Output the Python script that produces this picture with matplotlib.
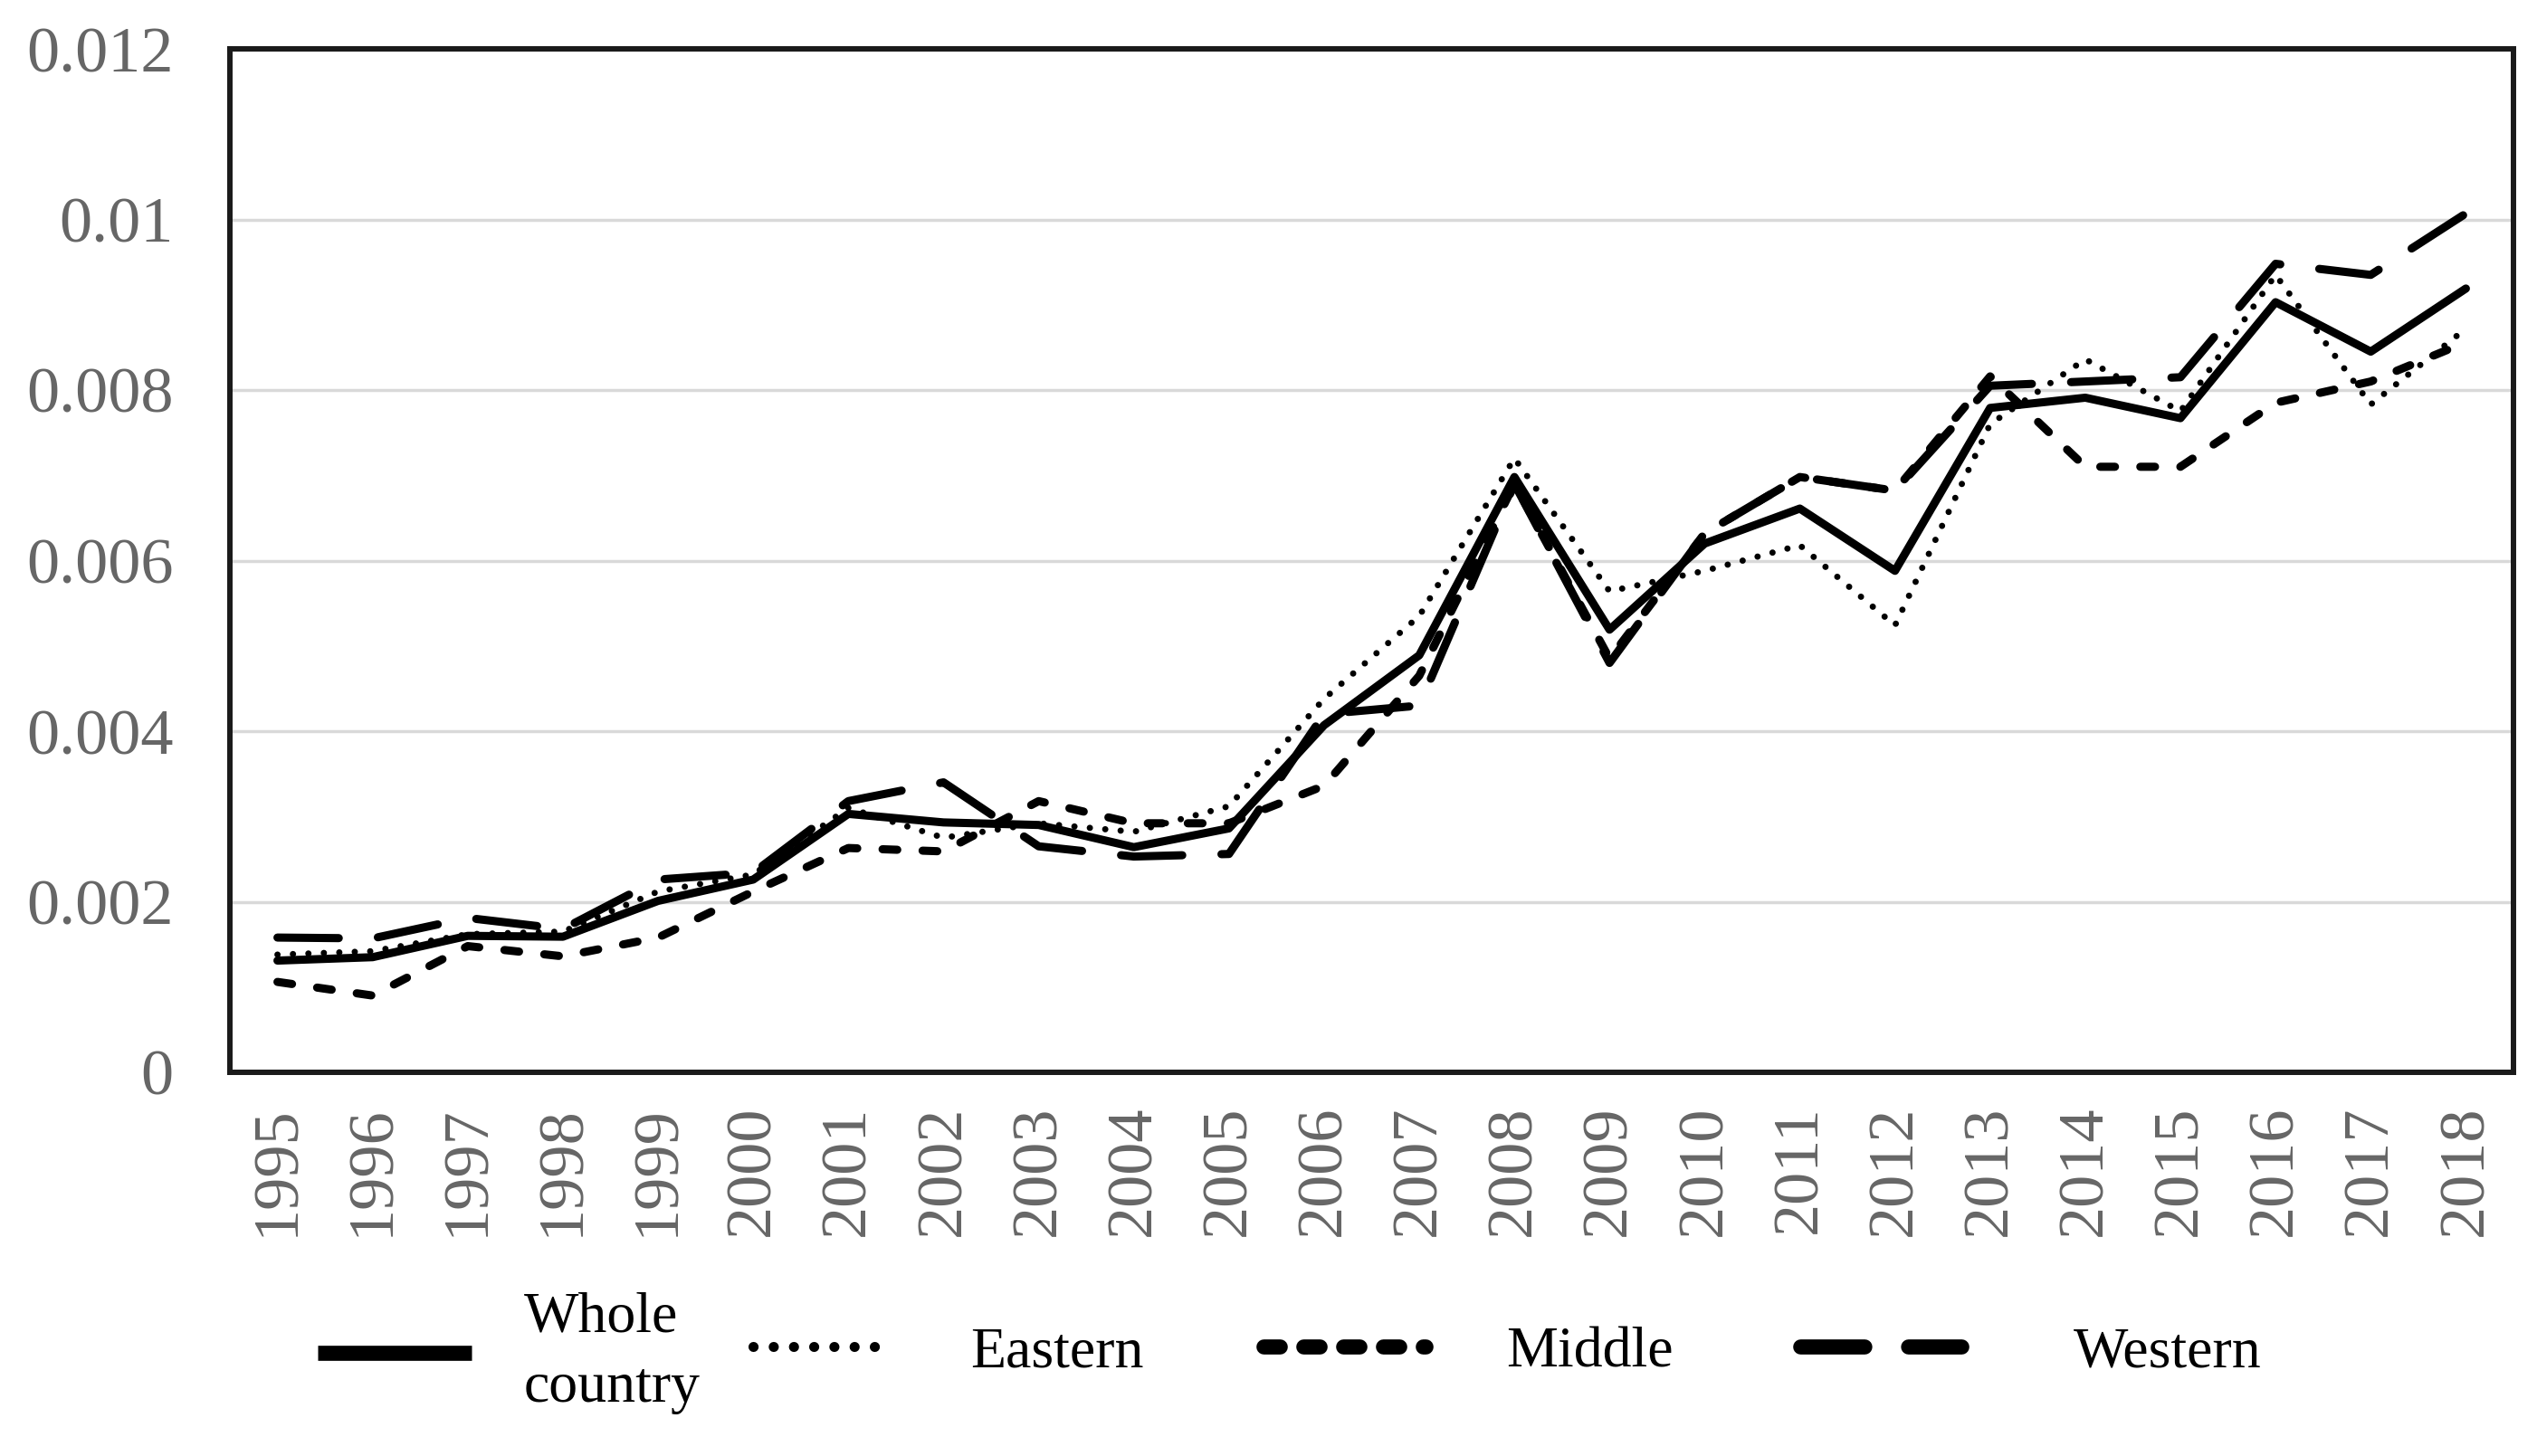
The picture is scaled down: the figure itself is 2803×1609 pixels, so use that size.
import matplotlib
matplotlib.use("Agg")
import matplotlib.pyplot as plt
from matplotlib.lines import Line2D

# --- data ---
years = [str(y) for y in range(1995, 2019)]

whole_country = [0.00131, 0.00135, 0.00160, 0.00159, 0.00201, 0.00226, 0.00303, 0.00293,
                 0.00290, 0.00264, 0.00286, 0.00407, 0.00489, 0.00698, 0.00519, 0.00620,
                 0.00661, 0.00588, 0.00779, 0.00791, 0.00767, 0.00903, 0.00845, 0.00919]
eastern = [0.00138, 0.00142, 0.00162, 0.00165, 0.00212, 0.00232, 0.00310, 0.00275,
           0.00292, 0.00282, 0.00312, 0.00438, 0.00535, 0.00720, 0.00564, 0.00588,
           0.00618, 0.00524, 0.00760, 0.00836, 0.00775, 0.00935, 0.00783, 0.00872]
middle = [0.00106, 0.00090, 0.00148, 0.00136, 0.00158, 0.00212, 0.00263, 0.00259,
          0.00318, 0.00292, 0.00292, 0.00336, 0.00465, 0.00690, 0.00485, 0.00632,
          0.00698, 0.00682, 0.00816, 0.00710, 0.00710, 0.00785, 0.00810, 0.00856]
western = [0.00158, 0.00157, 0.00181, 0.00168, 0.00226, 0.00234, 0.00318, 0.00340,
           0.00265, 0.00253, 0.00256, 0.00420, 0.00430, 0.00690, 0.00480, 0.00632,
           0.00698, 0.00682, 0.00805, 0.00810, 0.00815, 0.00948, 0.00935, 0.01007]

series_labels = ['Whole\ncountry', 'Eastern', 'Middle', 'Western']

y_ticks = [0, 0.002, 0.004, 0.006, 0.008, 0.01, 0.012]
y_tick_labels = ["0", "0.002", "0.004", "0.006", "0.008", "0.01", "0.012"]

plt.rcParams['font.family'] = ['Liberation Serif', 'DejaVu Serif']

W, H = 2803, 1609
fig = plt.figure(figsize=(W / 100, H / 100), dpi=100)
ax = fig.add_axes([254 / W, 1 - 1185 / H, (2777 - 254) / W, (1185 - 54) / H])

x = list(range(len(years)))
lw = 6.5

# Whole country - solid
ax.plot(x, whole_country, color='black', lw=lw, solid_capstyle='round',
        solid_joinstyle='round', zorder=5)
# Eastern - dotted
ax.plot(x, eastern, color='black', lw=5, dashes=(0.01, 2.45),
        dash_capstyle='round', zorder=4)
# Middle - medium dashes
ax.plot(x, middle, color='black', lw=lw, dashes=(1.8, 3.1),
        dash_capstyle='round', zorder=3)
# Western - long dashes
ax.plot(x, western, color='black', lw=lw, dashes=(7.5, 4.8),
        dash_capstyle='round', zorder=2)

ax.set_xlim(-0.5, len(years) - 0.5)
ax.set_ylim(0, 0.012)
ax.set_xticks(x)
ax.set_xticklabels(years, rotation=90)
ax.set_yticks(y_ticks)
ax.set_yticklabels(y_tick_labels)

ax.grid(axis='y', color='#d9d9d9', lw=2.5)
ax.set_axisbelow(True)
for spine in ax.spines.values():
    spine.set_linewidth(4.3)
    spine.set_color('#1a1a1a')

ax.tick_params(axis='x', length=0, pad=26, labelsize=52, labelcolor='#666666')
ax.tick_params(axis='y', length=0, pad=45, labelsize=52, labelcolor='#666666')

# legend: one entry per block so each sits where the reference puts it
legend_handles = [
    Line2D([], [], color='black', lw=12, solid_capstyle='butt'),
    Line2D([], [], color='black', lw=8, dashes=(0.01, 2.0), dash_capstyle='round'),
    Line2D([], [], color='black', lw=12, dashes=(1.08, 1.56), dash_capstyle='round'),
    Line2D([], [], color='black', lw=12, dashes=(4.25, 2.9), dash_capstyle='round'),
]
legend_x = [351, 832, 1396, 1989]
legend_len = [2.66, 2.32, 2.8, 2.79]
legend_pad = [0.91, 1.44, 1.39, 1.94]
for h, lab, lx, ln, pd_ in zip(legend_handles, series_labels, legend_x, legend_len, legend_pad):
    leg = fig.legend(handles=[h], labels=[lab], loc='center left',
                     bbox_to_anchor=(lx / W, 1 - 1495 / H), frameon=False,
                     fontsize=46, handlelength=ln, handletextpad=pd_,
                     borderpad=0, borderaxespad=0)
    for t in leg.get_texts():
        t.set_linespacing(1.45)

fig.savefig('out.png', dpi=100)
